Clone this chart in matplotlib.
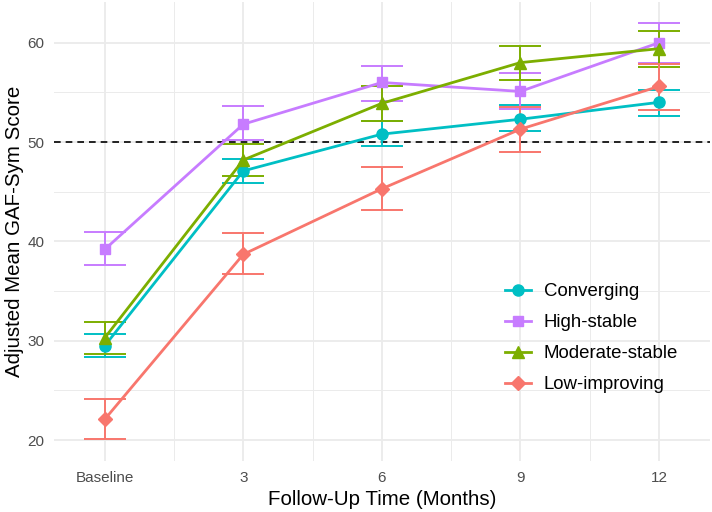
import matplotlib
matplotlib.use("Agg")
import matplotlib.pyplot as plt

plt.rcParams['font.family'] = ['Liberation Sans', 'DejaVu Sans']

months = [0, 3, 6, 9, 12]
tick_labels = ['Baseline', '3', '6', '9', '12']

groups = ['Converging', 'High-stable', 'Moderate-stable', 'Low-improving']
colors = ['#00BFC4', '#C77CFF', '#7CAE00', '#F8766D']
markers = ['o', 's', '^', 'D']
msizes = [8, 7.5, 9, 7]

means = {
    'Converging':      [29.5, 47.1, 50.8, 52.3, 54.0],
    'High-stable':     [39.2, 51.8, 56.0, 55.1, 60.0],
    'Moderate-stable': [30.3, 48.2, 53.9, 58.0, 59.4],
    'Low-improving':   [22.1, 38.7, 45.3, 51.3, 55.6],
}
lower = {
    'Converging':      [28.4, 45.9, 49.6, 51.1, 52.6],
    'High-stable':     [37.6, 50.2, 54.1, 53.3, 58.0],
    'Moderate-stable': [28.7, 46.6, 52.1, 56.2, 57.6],
    'Low-improving':   [20.1, 36.7, 43.2, 49.0, 53.2],
}
upper = {
    'Converging':      [30.7, 48.3, 52.1, 53.7, 55.2],
    'High-stable':     [41.0, 53.6, 57.7, 57.0, 62.0],
    'Moderate-stable': [31.9, 49.8, 55.6, 59.7, 61.2],
    'Low-improving':   [24.1, 40.8, 47.5, 53.5, 57.9],
}

fig = plt.figure(figsize=(7.12, 5.12), dpi=100)
ax = fig.add_axes([0.0758, 0.0996, 0.921, 0.8965])

for g, c, m, ms in zip(groups, colors, markers, msizes):
    y = means[g]
    err = [[a - b for a, b in zip(y, lower[g])], [b - a for a, b in zip(y, upper[g])]]
    ax.errorbar(months, y, yerr=err, fmt='none', ecolor=c, elinewidth=1.4,
                capsize=14.8, capthick=1.4, zorder=3)
    ax.plot(months, y, color=c, lw=2, marker=m, ms=ms, label=g, zorder=4)

ax.axhline(50, color='black', ls=(0, (4, 3)), lw=1.2, zorder=2)

ax.set_xlim(-1.1, 13.1)
ax.set_ylim(17.9, 64.1)
ax.set_xticks(months)
ax.set_xticklabels(tick_labels)
ax.set_xticks([1.5, 4.5, 7.5, 10.5], minor=True)
ax.set_yticks([20, 30, 40, 50, 60])
ax.set_yticks([25, 35, 45, 55], minor=True)
ax.grid(which='major', color='#EBEBEB', lw=1.3, zorder=0)
ax.grid(which='minor', color='#EBEBEB', lw=0.7, zorder=0)
ax.set_axisbelow(True)
for s in ax.spines.values():
    s.set_visible(False)
ax.tick_params(which='both', length=0, labelsize=11, labelcolor='#4D4D4D', pad=7)

ax.set_xlabel('Follow-Up Time (Months)', fontsize=14.8, labelpad=4)
ax.set_ylabel('Adjusted Mean GAF-Sym Score', fontsize=14.8, labelpad=2)

ax.legend(loc='center left', bbox_to_anchor=(0.662, 0.267), frameon=False,
          fontsize=13.4, handlelength=1.4, labelspacing=0.75, handletextpad=0.7)

fig.savefig('out.png', dpi=100)
